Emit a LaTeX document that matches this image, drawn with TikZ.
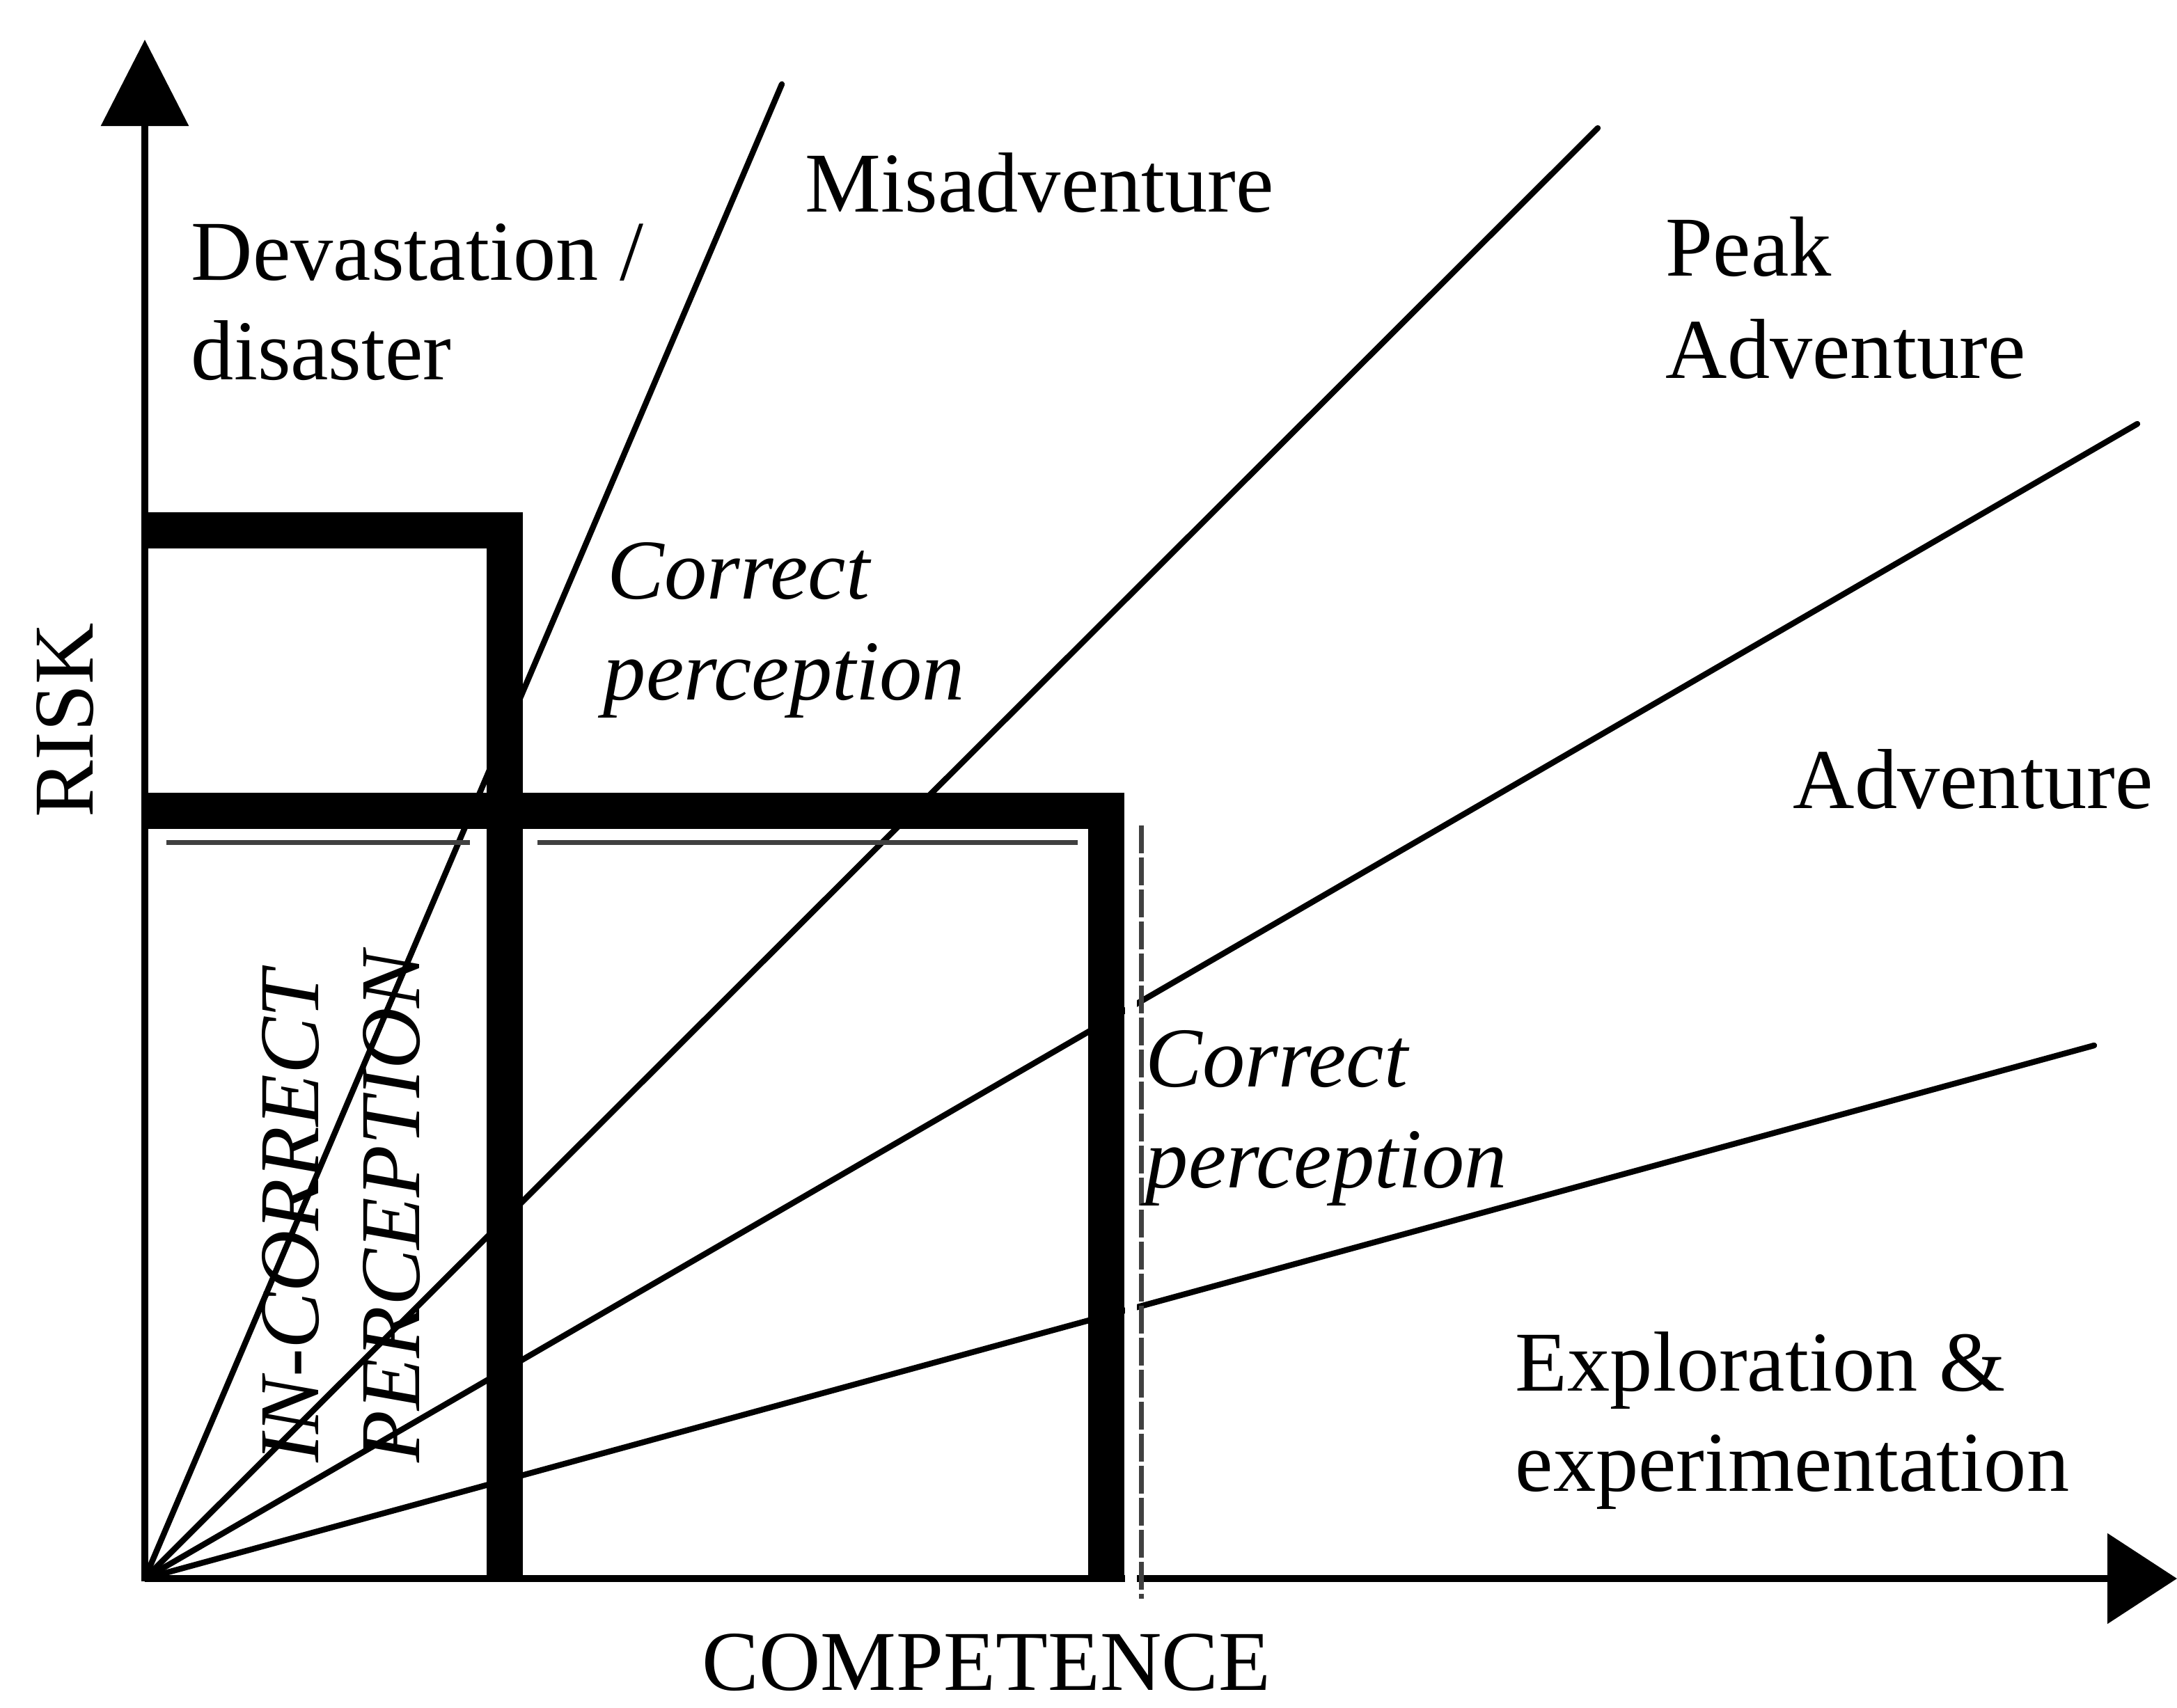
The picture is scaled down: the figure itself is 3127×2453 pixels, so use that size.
\documentclass[tikz,border=0pt]{standalone}
\usepackage{fontspec}
\setmainfont{Liberation Serif}
\usetikzlibrary{arrows.meta}
\begin{document}
\begin{tikzpicture}[x=0.25pt,y=-0.25pt,
  lbl/.style={inner sep=0pt,anchor=base west,font=\fontsize{30.6}{36}\selectfont},
  ilbl/.style={lbl,font=\fontsize{30.6}{36}\selectfont\itshape},
  axisline/.style={line width=2.5pt},
  ray/.style={line width=2.1pt,line cap=round},
  bar/.style={line width=13pt,line join=miter},
  rule/.style={line width=1.75pt,black!75},
]
\useasboundingbox (0,0) rectangle (3127,2453);

% origin, axis ends and ray ends
\coordinate (O) at (208,2268);
\coordinate (ybase) at (208,2272);
\coordinate (ytip) at (208,57);
\coordinate (xtip) at (3127,2268);
\coordinate (r1) at (1123,121);
\coordinate (r2) at (2295,184);
\coordinate (r3) at (3070,609);
\coordinate (r4) at (3008,1502);

% rays fanning out from the origin
\draw[ray] (O) -- (r1);
\draw[ray] (O) -- (r2);
\draw[ray] (O) -- (r3);
\draw[ray] (O) -- (r4);

% axes
\draw[axisline,-{Triangle[length=31pt,width=31pt]}] (ybase) -- (ytip);
\draw[axisline,-{Triangle[length=25pt,width=32pt]}] (O) -- (xtip);

% heavy perception boundaries
\coordinate (a1) at (206,762);
\coordinate (a2) at (725,762);
\coordinate (a3) at (725,2272);
\coordinate (b1) at (206,1165);
\coordinate (b2) at (1589,1165);
\coordinate (b3) at (1589,2272);
\draw[bar] (a1) -- (a2) -- (a3);
\draw[bar] (b1) -- (b2) -- (b3);

% clear strip beside the right boundary
\fill[white] (1616,1186) rectangle (1633,2300);

% fine rules inside the boundaries
\coordinate (g1) at (239,1210);
\coordinate (g2) at (675,1210);
\coordinate (g3) at (772,1210);
\coordinate (g4) at (1548,1210);
\coordinate (d1) at (1639,1186);
\coordinate (d2) at (1639,2297);
\draw[rule] (g1) -- (g2);
\draw[rule] (g3) -- (g4);
\draw[rule,dash pattern=on 10pt off 1.5pt] (d1) -- (d2);

% region labels
\node[lbl] (dev) at (274,402) {Devastation /};
\node[lbl] (dis) at (274,545) {disaster};
\node[lbl] (mis) at (1156,304) {Misadventure};
\node[lbl] (peak) at (2392,396) {Peak};
\node[lbl] (peakadv) at (2392,543) {Adventure};
\node[lbl] (adv) at (2575,1161) {Adventure};
\node[lbl] (expl) at (2176,1998) {Exploration \&};
\node[lbl] (expm) at (2176,2142) {experimentation};

\node[ilbl] (cp1a) at (872,860) {Correct};
\node[ilbl] (cp1b) at (866,1005) {perception};
\node[ilbl] (cp2a) at (1645,1561) {Correct};
\node[ilbl] (cp2b) at (1645,1706) {perception};

\node[ilbl,rotate=90] (inc) at (457,2102) {IN-CORRECT};
\node[ilbl,rotate=90] (perc) at (602,2102) {PERCEPTION};

% axis titles
\node[lbl] (comp) at (1008,2428) {COMPETENCE};
\node[lbl,rotate=90] (risk) at (133,1175) {RISK};
\end{tikzpicture}
\end{document}
